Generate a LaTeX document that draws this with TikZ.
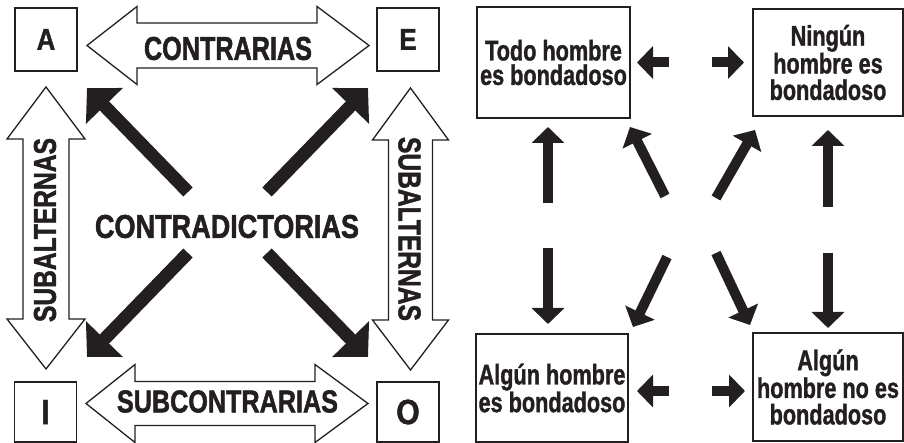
\documentclass[tikz,border=0pt]{standalone}
\usepackage{fontspec}
\usepackage{graphicx}
\setmainfont{Liberation Sans}
\newfontfamily\condfont[FakeStretch=0.76,FakeBold=1.2]{Liberation Sans}
\newfontfamily\letfont[FakeStretch=0.86,FakeBold=1.2]{Liberation Sans}
\newfontfamily\labfont[FakeBold=1.8]{Liberation Sans}
\usetikzlibrary{arrows.meta}
\definecolor{ink}{HTML}{231F20}
\tikzset{
  letterbox/.style={draw=ink, line width=1.8pt, minimum width=62pt, minimum height=63pt, inner sep=0pt, text=ink, font=\letfont\bfseries\fontsize{30}{30}\selectfont},
  propbox/.style={draw=ink, line width=1.6pt, inner sep=0pt, align=center, text=ink},
  warrow/.style={draw=ink, fill=white, line width=1.3pt, line join=miter},
  biglabel/.style={inner sep=0pt, text=ink, font=\labfont\bfseries},
  bigarrow/.style={draw=ink, line width=13pt, -{Triangle[length=25pt,width=50pt]}},
  smallarrow/.style={draw=ink, line width=10pt, -{Triangle[length=16pt,width=32pt]}},
}
\begin{document}
\begin{tikzpicture}[x=1pt,y=-1pt]
\useasboundingbox (0,0) rectangle (904,443);
% letter boxes
\node[letterbox] (A) at (46,39.5) {\raisebox{-3pt}{A}};
\node[letterbox] (E) at (408,39.5) {\raisebox{-3pt}{E}};
\node[letterbox, minimum height=60pt, font=\letfont\bfseries\fontsize{35}{35}\selectfont] (I) at (45.5,412) {I};
\node[letterbox, minimum height=60pt, font=\letfont\bfseries\fontsize{35}{35}\selectfont] (O) at (408,412) {O};
% white double arrows
\draw[warrow] (87,45.5) -- (137,6.5) -- (137,23) -- (317,23) -- (317,6.5) -- (369,45.5)
  -- (317,84.5) -- (317,68) -- (137,68) -- (137,84.5) -- cycle;
\node[biglabel] (contr) at (228,48.5) {\resizebox{168pt}{23pt}{CONTRARIAS}};
\draw[warrow] (86,403.5) -- (135,364.5) -- (135,381.5) -- (315,381.5) -- (315,364.5) -- (368,403.5)
  -- (315,442.5) -- (315,425.5) -- (135,425.5) -- (135,442.5) -- cycle;
\node[biglabel] (subc) at (227.5,401.5) {\resizebox{221pt}{22pt}{SUBCONTRARIAS}};
\draw[warrow] (46,87) -- (85,139) -- (69,139) -- (69,319) -- (85,319) -- (46,369)
  -- (7,319) -- (23,319) -- (23,139) -- (7,139) -- cycle;
\node[biglabel, rotate=90] (subL) at (45,230) {\resizebox{184pt}{22pt}{SUBALTERNAS}};
\draw[warrow] (410.5,88) -- (448.5,140) -- (432.5,140) -- (432.5,320) -- (448.5,320) -- (410.5,370)
  -- (372.5,320) -- (388.5,320) -- (388.5,140) -- (372.5,140) -- cycle;
\node[biglabel, rotate=-90] (subR) at (409.5,229) {\resizebox{184pt}{22pt}{SUBALTERNAS}};
% contradictorias
\node[biglabel] (contra) at (227,226.5) {\resizebox{264pt}{23pt}{CONTRADICTORIAS}};
\coordinate (tA) at (87,88);   \coordinate (sA) at (188,192);
\coordinate (tE) at (368,88);  \coordinate (sE) at (267,192);
\coordinate (tI) at (87,357);  \coordinate (sI) at (188,253);
\coordinate (tO) at (368,357); \coordinate (sO) at (267,253);
\draw[bigarrow] (sA) -- (tA);
\draw[bigarrow] (sE) -- (tE);
\draw[bigarrow] (sI) -- (tI);
\draw[bigarrow] (sO) -- (tO);
% proposition boxes
\node[propbox, minimum width=153pt, minimum height=111pt, font=\condfont\bfseries\fontsize{28.5}{24.5}\selectfont] (P1) at (553.5,62.5) {Todo hombre\\es bondadoso};
\node[propbox, minimum width=150pt, minimum height=107pt, font=\condfont\bfseries\fontsize{28.5}{26.5}\selectfont] (P2) at (828,62.5) {Ningún\\hombre es\\bondadoso};
\node[propbox, minimum width=152pt, minimum height=108pt, font=\condfont\bfseries\fontsize{28.5}{25}\selectfont] (P3) at (552,388) {Algún hombre\\es bondadoso};
\node[propbox, minimum width=150pt, minimum height=108pt, font=\condfont\bfseries\fontsize{28.5}{26.5}\selectfont] (P4) at (828,387) {Algún\\hombre no es\\bondadoso};
% small arrows
\coordinate (a1s) at (669,62.5); \coordinate (a1t) at (637,62.5);
\coordinate (a2s) at (712,62.5); \coordinate (a2t) at (744,62.5);
\coordinate (a3s) at (548,203);  \coordinate (a3t) at (548,127);
\coordinate (a4s) at (665,196);  \coordinate (a4t) at (630,127);
\coordinate (a5s) at (716,198);  \coordinate (a5t) at (755,130);
\coordinate (a6s) at (828,207);  \coordinate (a6t) at (828,130);
\coordinate (a7s) at (548,248);  \coordinate (a7t) at (548,324);
\coordinate (a8s) at (667,257);  \coordinate (a8t) at (633,327);
\coordinate (a9s) at (716,253);  \coordinate (a9t) at (750,325);
\coordinate (a10s) at (828,253); \coordinate (a10t) at (828,328);
\coordinate (a11s) at (669,391); \coordinate (a11t) at (637,391);
\coordinate (a12s) at (712,391); \coordinate (a12t) at (745,391);
\foreach \k in {1,...,12} {\draw[smallarrow] (a\k s) -- (a\k t);}
\end{tikzpicture}
\end{document}
